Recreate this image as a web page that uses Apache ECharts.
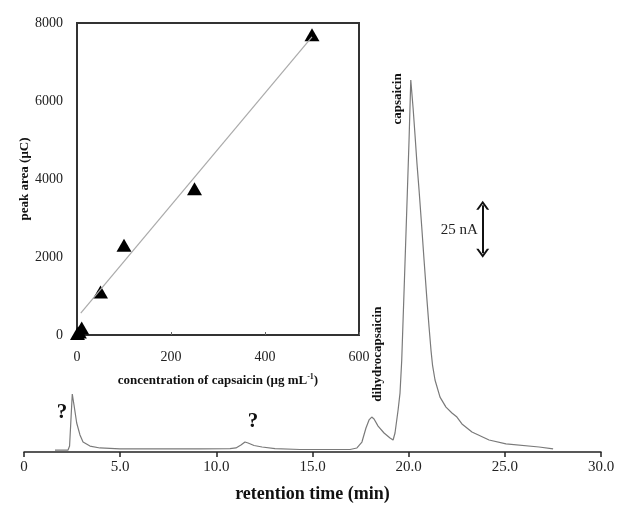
<!DOCTYPE html>
<html><head><meta charset="utf-8">
<script src="https://cdn.jsdelivr.net/npm/echarts@6/dist/echarts.min.js"></script>
<style>html,body{margin:0;padding:0;background:#fff}#c{width:621px;height:508px}</style>
</head><body><div id="c"></div>
<script>
// ---- inset calibration data ----
const concX = [1, 5, 10, 50, 100, 250, 500];
const areaY = [40, 80, 180, 1100, 2300, 3750, 7700];
const fitX = [8, 500];
const fitY = [560, 7645];
const concTicks = ['0', '200', '400', '600'];
const areaTicks = ['0', '2000', '4000', '6000', '8000'];
// ---- chromatogram trace ----
const timeMin = [1.61, 2.29, 2.37, 2.44, 2.51, 2.60, 2.74, 2.91, 3.07, 3.43, 3.95, 4.99, 6.55, 9.15, 10.71, 11.02, 11.28, 11.49, 11.65, 11.96, 12.38, 13.05, 14.35, 16.95, 17.31, 17.57, 17.78, 17.94, 18.08, 18.20, 18.41, 18.72, 19.03, 19.19, 19.29, 19.45, 19.55, 19.64, 19.78, 19.93, 20.02, 20.11, 20.23, 20.33, 20.43, 20.54, 20.68, 20.80, 20.94, 21.06, 21.16, 21.24, 21.37, 21.63, 21.94, 22.25, 22.51, 22.77, 23.29, 24.18, 25.06, 26.78, 27.51];
const currentNA = [1.0, 1.0, 3.1, 16.7, 30.2, 24.5, 15.1, 8.9, 5.2, 3.1, 2.1, 1.6, 1.6, 1.6, 1.8, 2.1, 3.6, 5.2, 4.7, 3.4, 2.6, 1.8, 1.3, 1.3, 2.1, 5.2, 12.5, 16.7, 18.2, 17.2, 13.5, 9.9, 7.3, 6.25, 9.9, 21.9, 30.7, 47.9, 89.6, 134.9, 162.5, 193.75, 179.2, 165.1, 150.5, 136.5, 117.2, 100, 80.7, 65.1, 53.1, 45.3, 37.5, 28.6, 23.4, 20.3, 18.2, 14.6, 10.4, 6.25, 4.2, 2.6, 1.6];
const timeTicks = ['0', '5.0', '10.0', '15.0', '20.0', '25.0', '30.0'];
const peakNames = ['capsaicin', 'dihydrocapsaicin', '?', '?'];
const scaleBarNA = 25;
const scaleBarText = '25 nA';

const F = 'Liberation Serif, Times New Roman, serif';
const chev = 'path://M0,10 L5,0 L10,10 L8.2,10 L5,3.6 L1.8,10 Z';

const chart = echarts.init(document.getElementById('c'), null, {renderer: 'canvas'});
const trace = timeMin.map((t, i) => [t, currentNA[i]]);
const calib = concX.map((x, i) => [x, areaY[i]]);
const fit = fitX.map((x, i) => [x, fitY[i]]);

const boldLbl = (txt, size, rot) => ({
  show: true, formatter: txt, position: 'inside', rotate: rot || 0,
  fontFamily: F, fontWeight: 'bold', fontSize: size, color: '#111'
});

chart.setOption({
  animation: false,
  backgroundColor: '#fff',
  grid: [
    {left: 24, right: 20, top: 22, bottom: 56},
    {left: 77, top: 23, width: 282, height: 312, show: true, borderColor: '#333', borderWidth: 2, backgroundColor: 'transparent'}
  ],
  xAxis: [
    {gridIndex: 0, type: 'value', min: 0, max: 30, interval: 5,
     axisLine: {show: true, onZero: false, lineStyle: {color: '#222', width: 1.5}},
     axisTick: {show: true, length: 5, lineStyle: {color: '#222', width: 1.5}},
     splitLine: {show: false},
     axisLabel: {margin: 8, fontFamily: F, fontSize: 15, color: '#222',
       formatter: v => timeTicks[Math.round(v / 5)]},
     name: 'retention time (min)', nameLocation: 'middle', nameGap: 33,
     nameTextStyle: {fontFamily: F, fontWeight: 'bold', fontSize: 18, color: '#111'}},
    {gridIndex: 1, type: 'value', min: 0, max: 600, interval: 200,
     axisLine: {show: true, onZero: false, lineStyle: {color: '#333', width: 2}},
     axisTick: {show: true, inside: true, length: 3, lineStyle: {color: '#666'}},
     splitLine: {show: false},
     axisLabel: {margin: 15, fontFamily: F, fontSize: 14, color: '#222',
       formatter: v => concTicks[Math.round(v / 200)]},
     name: '{t|concentration of capsaicin (μg mL}{s|-1}{t|)}', nameLocation: 'middle', nameGap: 38,
     nameTextStyle: {fontFamily: F, fontWeight: 'bold', fontSize: 13, color: '#111',
       rich: {
         t: {fontFamily: F, fontWeight: 'bold', fontSize: 13, color: '#111'},
         s: {fontFamily: F, fontWeight: 'bold', fontSize: 8, color: '#111', padding: [0, 0, 7, 0]}
       }}},
  ],
  yAxis: [
    {gridIndex: 0, type: 'value', min: 0, max: 224, show: false, splitLine: {show: false}},
    {gridIndex: 1, type: 'value', min: 0, max: 8000, interval: 2000,
     axisLine: {show: true, onZero: false, lineStyle: {color: '#333', width: 2}},
     axisTick: {show: false},
     splitLine: {show: false},
     axisLabel: {margin: 14, fontFamily: F, fontSize: 14, color: '#222',
       formatter: v => areaTicks[Math.round(v / 2000)]},
     name: 'peak area (μC)', nameLocation: 'middle', nameGap: 41,
     nameTextStyle: {fontFamily: F, fontWeight: 'bold', fontSize: 13, color: '#111'}}
  ],
  series: [
    {type: 'line', xAxisIndex: 0, yAxisIndex: 0, data: trace, showSymbol: false, smooth: false,
     lineStyle: {color: '#7a7a7a', width: 1.2}, silent: true,
     markPoint: {symbol: 'circle', symbolSize: 0, silent: true,
       data: [
         {coord: [19.45, 183.9], label: boldLbl(peakNames[0], 13, 90)},
         {coord: [18.41, 51], label: boldLbl(peakNames[1], 13, 90)},
         {coord: [1.98, 20.3], label: boldLbl(peakNames[2], 21, 0)},
         {coord: [11.91, 15.6], label: boldLbl(peakNames[3], 21, 0)},
         {coord: [23.6, 115.6], label: {show: true, formatter: scaleBarText, position: 'left', distance: 0,
           fontFamily: F, fontSize: 15, color: '#222'}}
       ]},
     markLine: {silent: true, symbol: [chev, chev], symbolSize: [13, 9], label: {show: false},
       lineStyle: {color: '#111', width: 2, type: 'solid'},
       data: [[{coord: [23.85, 103.5]}, {coord: [23.85, 103.5 + scaleBarNA]}]]}
    },
    {type: 'line', xAxisIndex: 1, yAxisIndex: 1, data: fit, showSymbol: false,
     lineStyle: {color: '#aaa', width: 1.2}, silent: true},
    {type: 'scatter', xAxisIndex: 1, yAxisIndex: 1, data: calib, symbol: 'triangle',
     symbolSize: [15, 13], itemStyle: {color: '#000', opacity: 1}, silent: true}
  ]
});
</script></body></html>
